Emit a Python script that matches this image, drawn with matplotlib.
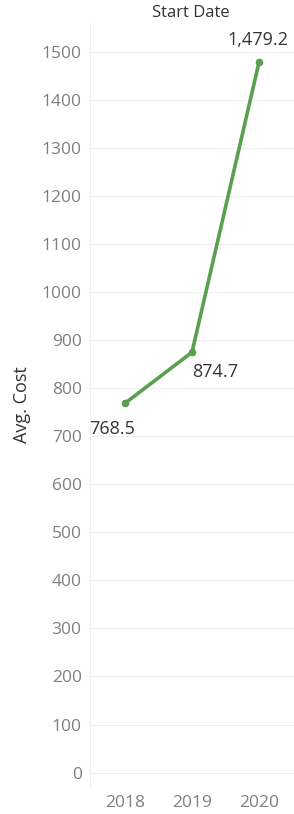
import numpy as np
import matplotlib.pyplot as plt

# data
years = ['2018', '2019', '2020']
avg_cost = [768.5, 874.7, 1479.2]
labels = ['768.5', '874.7', '1,479.2']

plt.rcParams['font.family'] = ['Open Sans', 'DejaVu Sans']

fig = plt.figure(figsize=(2.94, 8.14), dpi=100)
ax = fig.add_axes([90 / 294, 1 - 787 / 814, 204 / 294, (787 - 23) / 814])

x = np.arange(len(years))
ax.plot(x, avg_cost, color='#59A14F', lw=2.6, marker='o', ms=4.5, solid_capstyle='round')

# value labels (offsets in pixels)
offsets = [(-13, -26), (23, -20), (-1, 22)]
for xi, yi, lab, (dx, dy) in zip(x, avg_cost, labels, offsets):
    ax.annotate(lab, (xi, yi), xytext=(dx * 0.72, dy * 0.72), textcoords='offset points',
                ha='center', va='center', fontsize=13, color='#333333')

ax.set_xlim(-0.52, 2.52)
ax.set_ylim(-30, 1560)
ax.set_yticks(np.arange(0, 1501, 100))
ax.set_xticks(x)
ax.set_xticklabels(years)
ax.tick_params(axis='both', length=0, labelsize=12.5, labelcolor='#7f7f7f', pad=6)
ax.grid(axis='y', color='#efefef', lw=0.8)
ax.set_axisbelow(True)
for s in ['top', 'right', 'bottom']:
    ax.spines[s].set_visible(False)
ax.spines['left'].set_color('#eeeeee')
ax.spines['left'].set_linewidth(0.8)

ax.set_ylabel('Avg. Cost', fontsize=13, color='#333333', labelpad=8)
fig.text((90 + 291) / 2 / 294, 1 - 13 / 814, 'Start Date', ha='center', va='center',
         fontsize=12, color='#333333')

fig.savefig('out.png', dpi=100)
